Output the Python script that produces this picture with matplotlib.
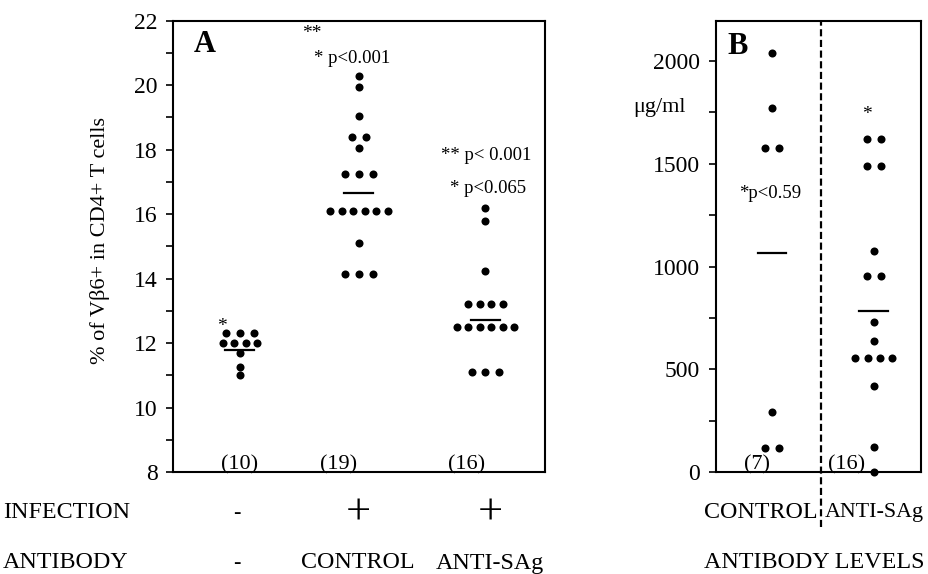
import numpy as np
import matplotlib
matplotlib.use('Agg')
import matplotlib.pyplot as plt
from matplotlib.ticker import MultipleLocator

plt.rcParams['font.family'] = ['Liberation Serif', 'DejaVu Serif']

# painel A: % de Vb6+ em celulas T CD4+
infection_a = ['-', '+', '+']
antibody_a = ['-', 'CONTROL', 'ANTI-SAg']
counts_a = ['(10)', '(19)', '(16)']
vals_uninfected = [12.3, 12.3, 12.3, 12.0, 12.0, 12.0, 12.0, 11.7, 11.25, 11.0]
vals_control = [20.3, 19.95, 19.05, 18.4, 18.4, 18.05, 17.25, 17.25, 17.25,
                16.1, 16.1, 16.1, 16.1, 16.1, 16.1, 15.1, 14.15, 14.15, 14.15]
vals_antisag = [16.2, 15.8, 14.25, 13.2, 13.2, 13.2, 13.2,
                12.5, 12.5, 12.5, 12.5, 12.5, 12.5, 11.1, 11.1, 11.1]
means_a = [11.77, 16.66, 12.70]

# painel B: niveis de anticorpo (ug/ml)
groups_b = ['CONTROL', 'ANTI-SAg']
counts_b = ['(7)', '(16)']
levels_control = [2040, 1770, 1575, 1575, 292, 117, 117]
levels_antisag = [1620, 1620, 1490, 1490, 1076, 956, 956, 733, 640,
                  557, 557, 557, 557, 420, 125, 0]
means_b = [1065, 786]


# espalha pontos com o mesmo valor lado a lado
def espalhar(valores, centro, passo_poucos, passo_muitos):
    xs, ys = [], []
    unicos = []
    for v in valores:
        if v not in unicos:
            unicos.append(v)
    for v in unicos:
        n = valores.count(v)
        passo = passo_poucos if n <= 3 else passo_muitos
        for i in range(n):
            xs.append(centro + (i - (n - 1) / 2) * passo)
            ys.append(v)
    return xs, ys


def estilo_eixo(ax):
    for s in ax.spines.values():
        s.set_linewidth(1.5)
    ax.tick_params(axis='y', which='both', direction='out', length=5, width=1.2,
                   labelsize=17, pad=6)
    ax.set_xticks([])


fig = plt.figure(figsize=(9.29, 5.74), dpi=100)

# ---------------- painel A ----------------
axA = fig.add_axes([0.1862, 0.1777, 0.4004, 0.7862])
centros_a = [0.18, 0.50, 0.84]
for c, vals in zip(centros_a, [vals_uninfected, vals_control, vals_antisag]):
    xs, ys = espalhar(vals, c, 0.037, 0.031)
    axA.plot(xs, ys, 'o', color='black', markersize=5.8, markeredgewidth=0,
             linestyle='none')
for c, m in zip(centros_a, means_a):
    axA.plot([c - 0.039, c + 0.039], [m, m], color='black', lw=1.6)

axA.set_xlim(0, 1)
axA.set_ylim(8, 22)
axA.yaxis.set_major_locator(MultipleLocator(2))
axA.yaxis.set_minor_locator(MultipleLocator(1))
estilo_eixo(axA)

axA.text(0.086, 0.948, 'A', transform=axA.transAxes, fontsize=22,
         fontweight='bold', ha='center', va='center')
axA.text(-0.196, 0.514, '% of V\u03b26+ in CD4+ T cells', transform=axA.transAxes,
         rotation=90, ha='center', va='center', fontsize=16)

axA.text(0.131, 12.5, '*', fontsize=14, ha='center', va='center')
axA.text(0.372, 21.6, '**', fontsize=14, ha='center', va='center')
axA.text(0.481, 20.83, '* p<0.001', fontsize=13.5, ha='center', va='center')
axA.text(0.841, 17.83, '** p< 0.001', fontsize=13.5, ha='center', va='center')
axA.text(0.847, 16.8, '* p<0.065', fontsize=13.5, ha='center', va='center')
for xc, lab in zip([0.18, 0.446, 0.79], counts_a):
    axA.text(xc, 8.22, lab, fontsize=16, ha='center', va='center')

# ---------------- painel B ----------------
axB = fig.add_axes([0.7702, 0.1772, 0.2212, 0.7862])
centros_b = [0.275, 0.77]
for c, vals in zip(centros_b, [levels_control, levels_antisag]):
    xs, ys = espalhar(vals, c, 0.066, 0.06)
    axB.plot(xs, ys, 'o', color='black', markersize=5.8, markeredgewidth=0,
             linestyle='none', clip_on=False)
for c, m in zip(centros_b, means_b):
    axB.plot([c - 0.07, c + 0.07], [m, m], color='black', lw=1.6)

axB.set_xlim(0, 1)
axB.set_ylim(0, 2195)
axB.yaxis.set_major_locator(MultipleLocator(500))
axB.yaxis.set_minor_locator(MultipleLocator(250))
estilo_eixo(axB)

axB.plot([0.512, 0.512], [-0.121, 1], transform=axB.transAxes, clip_on=False,
         color='black', lw=1.6, linestyle=(0, (3.2, 1.6)))

axB.text(0.106, 0.944, 'B', transform=axB.transAxes, fontsize=22,
         fontweight='bold', ha='center', va='center')
axB.text(-0.275, 1772, '\u03bcg/ml', fontsize=16, ha='center', va='center')
axB.text(0.265, 1357, '*p<0.59', fontsize=13.5, ha='center', va='center')
axB.text(0.736, 1740, '*', fontsize=14, ha='center', va='center')
for xc, lab in zip([0.2, 0.64], counts_b):
    axB.text(xc, 35, lab, fontsize=16, ha='center', va='center')

# ---------------- rotulos de baixo ----------------
W, H = 929, 574


def ftexto(px, py, s, **kw):
    fig.text(px / W, 1 - py / H, s, **kw)


fs = 17.3
ftexto(3, 513, 'INFECTION', fontsize=fs, ha='left', va='center')
ftexto(3, 563, 'ANTIBODY', fontsize=fs, ha='left', va='center')
ftexto(237, 513, infection_a[0], fontsize=16, ha='center', va='center')
for px, s in zip([358, 490], infection_a[1:]):
    ftexto(px, 513, s, fontsize=32, ha='center', va='center')
ftexto(237, 563, antibody_a[0], fontsize=16, fontweight='bold', ha='center', va='center')
for px, s in zip([358, 490], antibody_a[1:]):
    ftexto(px, 563, s, fontsize=fs, ha='center', va='center')

ftexto(818, 513, groups_b[0], fontsize=fs, ha='right', va='center')
ftexto(825, 513, groups_b[1], fontsize=15.8, ha='left', va='center')
ftexto(814, 563, 'ANTIBODY LEVELS', fontsize=fs, ha='center', va='center')

fig.savefig('out.png', dpi=100)
